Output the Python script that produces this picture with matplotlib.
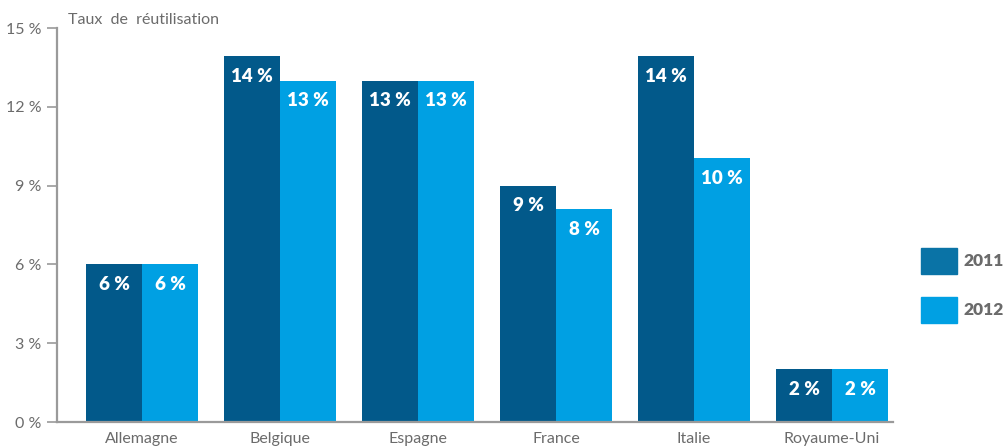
import matplotlib
matplotlib.use("Agg")
import matplotlib.pyplot as plt
from matplotlib.patches import Rectangle
import numpy as np

categories = ["Allemagne", "Belgique", "Espagne", "France", "Italie", "Royaume-Uni"]
series_names = ["2011", "2012"]
values_2011 = [6, 13.93, 13, 9, 13.93, 2]
values_2012 = [6, 13, 13, 8.1, 10.05, 2]
labels_2011 = ["6 %", "14 %", "13 %", "9 %", "14 %", "2 %"]
labels_2012 = ["6 %", "13 %", "13 %", "8 %", "10 %", "2 %"]
yticks = [0, 3, 6, 9, 12, 15]
ytick_labels = ["0 %", "3 %", "6 %", "9 %", "12 %", "15 %"]

c2011 = "#02598A"
c2012 = "#00A0E3"
c2011_leg = "#0A73A6"
grey_text = "#6b6b6b"
axis_grey = "#9a9a9a"

cond_font = ["Lato", "DejaVu Sans"]
bold_font = ["Lato", "DejaVu Sans"]

fig = plt.figure(figsize=(10.06, 4.47), dpi=100)
ax = fig.add_axes([57/1006, 25/447, (893-57)/1006, (422-28)/447])

x = np.arange(len(categories))
w = 56/138
b1 = ax.bar(x - w/2, values_2011, width=w, color=c2011, label=series_names[0])
b2 = ax.bar(x + w/2, values_2012, width=w, color=c2012, label=series_names[1])

for bars, labs in ((b1, labels_2011), (b2, labels_2012)):
    for r, lab in zip(bars, labs):
        ax.annotate(lab, (r.get_x() + r.get_width()/2, r.get_height()),
                    xytext=(0, -14.5), textcoords="offset points",
                    ha="center", va="center", color="white",
                    fontsize=13.5, fontweight="heavy", family=bold_font)

ax.set_xlim((57-142)/138, (893-142)/138)
ax.set_ylim(0, 15)
ax.set_yticks(yticks)
ax.set_yticklabels(ytick_labels, family=cond_font, fontsize=11.5, color=grey_text)
ax.set_xticks(x)
ax.set_xticklabels(categories, family=cond_font, fontsize=11.5, color=grey_text)
ax.tick_params(axis="y", length=7, width=1.2, color=axis_grey, pad=4)
ax.tick_params(axis="x", length=0, pad=7)
for s in ("top", "right"):
    ax.spines[s].set_visible(False)
for s in ("left", "bottom"):
    ax.spines[s].set_color(axis_grey)
    ax.spines[s].set_linewidth(1.6)

fig.text(68/1006, 1 - 20/447, "Taux  de  réutilisation", family=cond_font,
         fontsize=11.5, color=grey_text, va="center", ha="left")

# legend
leg_items = [(series_names[0], c2011_leg, 248), (series_names[1], c2012, 297)]
for name, col, ytop in leg_items:
    fig.add_artist(Rectangle((921/1006, 1 - (ytop+26)/447), 36/1006, 26/447,
                             transform=fig.transFigure, color=col))
    fig.text(963/1006, 1 - (ytop+13)/447, name, family=bold_font, fontsize=12.5,
             fontweight="heavy", color=grey_text, va="center", ha="left")

fig.savefig("out.png", dpi=100)
